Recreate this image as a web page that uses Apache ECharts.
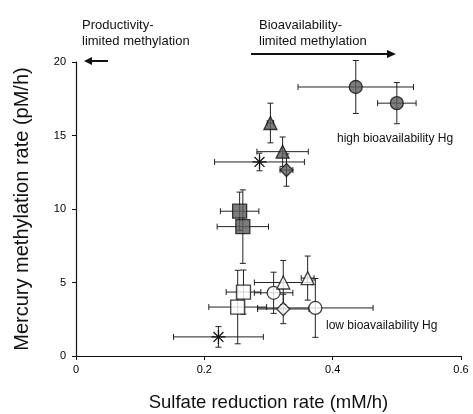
<!DOCTYPE html>
<html>
<head>
<meta charset="utf-8">
<script src="https://cdn.jsdelivr.net/npm/echarts@6/dist/echarts.min.js"></script>
<style>
  html, body { margin: 0; padding: 0; background: #fff; }
  #chart { width: 473px; height: 414px; }
</style>
</head>
<body>
<div id="chart"></div>
<script>
// high bioavailability Hg (hatched markers)
var highX = [0.436, 0.50, 0.303, 0.322, 0.286, 0.328, 0.255, 0.26];
var highY = [18.3, 17.2, 15.85, 13.9, 13.2, 12.65, 9.85, 8.8];
var highXErr = [0.09, 0.03, 0.005, 0.04, 0.07, 0.01, 0.03, 0.04];
var highYErr = [1.8, 1.4, 1.35, 1.0, 0.6, 1.1, 1.3, 2.5];
var highShape = ['circle', 'circle', 'triangle', 'triangle', 'asterisk', 'diamond', 'rect', 'rect'];

// low bioavailability Hg (open markers)
var lowX = [0.261, 0.252, 0.308, 0.323, 0.323, 0.361, 0.373, 0.222];
var lowY = [4.35, 3.33, 4.3, 5.0, 3.2, 5.3, 3.27, 1.3];
var lowXErr = [0.027, 0.045, 0.03, 0.045, 0.04, 0.01, 0.09, 0.07];
var lowYErr = [1.5, 2.5, 1.4, 1.5, 1.0, 1.5, 2.0, 0.7];
var lowShape = ['rect', 'rect', 'circle', 'triangle', 'diamond', 'triangle', 'circle', 'asterisk'];

var xTicks = [0, 0.2, 0.4, 0.6];
var yTicks = [0, 5, 10, 15, 20];

var sizes = { circle: 13, triangle: 13, diamond: 13, rect: 14, asterisk: 14 };

function rows(xs, ys, xe, ye, sh) {
  return xs.map(function (x, i) { return [x, ys[i], xe[i], ye[i], sh[i]]; });
}
var highRows = rows(highX, highY, highXErr, highYErr, highShape);
var lowRows = rows(lowX, lowY, lowXErr, lowYErr, lowShape);

function errorBars(params, api) {
  var x = api.value(0), y = api.value(1), dx = api.value(2), dy = api.value(3);
  var c = api.coord([x, y]);
  var l = api.coord([x - dx, y]), r = api.coord([x + dx, y]);
  var t = api.coord([x, y + dy]), b = api.coord([x, y - dy]);
  var st = { stroke: '#222', lineWidth: 1 };
  var cap = 3;
  var kids = [
    { type: 'line', shape: { x1: l[0], y1: c[1], x2: r[0], y2: c[1] }, style: st },
    { type: 'line', shape: { x1: l[0], y1: c[1] - cap, x2: l[0], y2: c[1] + cap }, style: st },
    { type: 'line', shape: { x1: r[0], y1: c[1] - cap, x2: r[0], y2: c[1] + cap }, style: st },
    { type: 'line', shape: { x1: c[0], y1: t[1], x2: c[0], y2: b[1] }, style: st },
    { type: 'line', shape: { x1: c[0] - cap, y1: t[1], x2: c[0] + cap, y2: t[1] }, style: st },
    { type: 'line', shape: { x1: c[0] - cap, y1: b[1], x2: c[0] + cap, y2: b[1] }, style: st }
  ];
  if (api.value(4) === 'asterisk') {
    var rr = 7;
    for (var k = 0; k < 4; k++) {
      var a = k * Math.PI / 4;
      kids.push({
        type: 'line', z2: 10,
        shape: { x1: c[0] - rr * Math.cos(a), y1: c[1] - rr * Math.sin(a), x2: c[0] + rr * Math.cos(a), y2: c[1] + rr * Math.sin(a) },
        style: { stroke: '#111', lineWidth: 1.3 }
      });
    }
  }
  return { type: 'group', children: kids };
}

function markerData(rs, fill) {
  return rs.filter(function (r) { return r[4] !== 'asterisk'; }).map(function (r) {
    return {
      value: [r[0], r[1]],
      symbol: r[4],
      symbolSize: sizes[r[4]],
      itemStyle: { color: fill, borderColor: '#111', borderWidth: 1.3 }
    };
  });
}

var chart = echarts.init(document.getElementById('chart'));
var font = 'Liberation Sans, Arial, sans-serif';

var option = {
  animation: false,
  backgroundColor: '#fff',
  grid: { left: 76, right: 12, top: 62, bottom: 58, outerBoundsMode: 'none' },
  xAxis: {
    type: 'value', min: 0, max: 0.6, interval: 0.2,
    name: 'Sulfate reduction rate (mM/h)', nameLocation: 'middle', nameGap: 37,
    nameTextStyle: { fontFamily: font, fontSize: 18.5, color: '#111' },
    axisLine: { lineStyle: { color: '#111', width: 1.2 } },
    axisTick: { show: true, length: 4, lineStyle: { color: '#111' } },
    axisLabel: { fontFamily: font, fontSize: 11, color: '#000', margin: 8,
      formatter: function (v) { return xTicks.indexOf(v) >= 0 ? String(v) : ''; } },
    splitLine: { show: false }
  },
  yAxis: {
    type: 'value', min: 0, max: 20, interval: 5,
    name: 'Mercury methylation rate (pM/h)', nameLocation: 'middle', nameGap: 44,
    nameTextStyle: { fontFamily: font, fontSize: 20, color: '#111' },
    axisLine: { show: true, lineStyle: { color: '#111', width: 1.2 } },
    axisTick: { show: true, length: 4, lineStyle: { color: '#111' } },
    axisLabel: { fontFamily: font, fontSize: 11, color: '#000', margin: 10,
      formatter: function (v) { return yTicks.indexOf(v) >= 0 ? String(v) : ''; } },
    splitLine: { show: false }
  },
  series: [
    { type: 'custom', renderItem: errorBars, data: highRows, z: 2 },
    { type: 'custom', renderItem: errorBars, data: lowRows, z: 2 },
    { type: 'scatter', data: markerData(highRows, '#5c5c5c'), z: 5 },
    { type: 'scatter', data: markerData(lowRows, '#ffffff'), z: 5 }
  ],
  graphic: [
    { type: 'text', left: 82, top: 17, style: { text: 'Productivity-\nlimited methylation', font: '13px ' + font, fill: '#111', lineHeight: 16 } },
    { type: 'text', left: 259, top: 17, style: { text: 'Bioavailability-\nlimited methylation', font: '13px ' + font, fill: '#111', lineHeight: 16 } },
    { type: 'line', shape: { x1: 108, y1: 61, x2: 90, y2: 61 }, style: { stroke: '#111', lineWidth: 2 } },
    { type: 'polygon', shape: { points: [[84, 61], [92, 57], [92, 65]] }, style: { fill: '#111' } },
    { type: 'line', shape: { x1: 251, y1: 54, x2: 388, y2: 54 }, style: { stroke: '#111', lineWidth: 2 } },
    { type: 'polygon', shape: { points: [[396, 54], [387, 50], [387, 58]] }, style: { fill: '#111' } },
    { type: 'text', left: 337, top: 133, style: { text: 'high bioavailability Hg', font: '12px ' + font, fill: '#111' } },
    { type: 'text', left: 326, top: 320, style: { text: 'low bioavailability Hg', font: '12px ' + font, fill: '#111' } }
  ]
};

chart.setOption(option);
</script>
</body>
</html>
